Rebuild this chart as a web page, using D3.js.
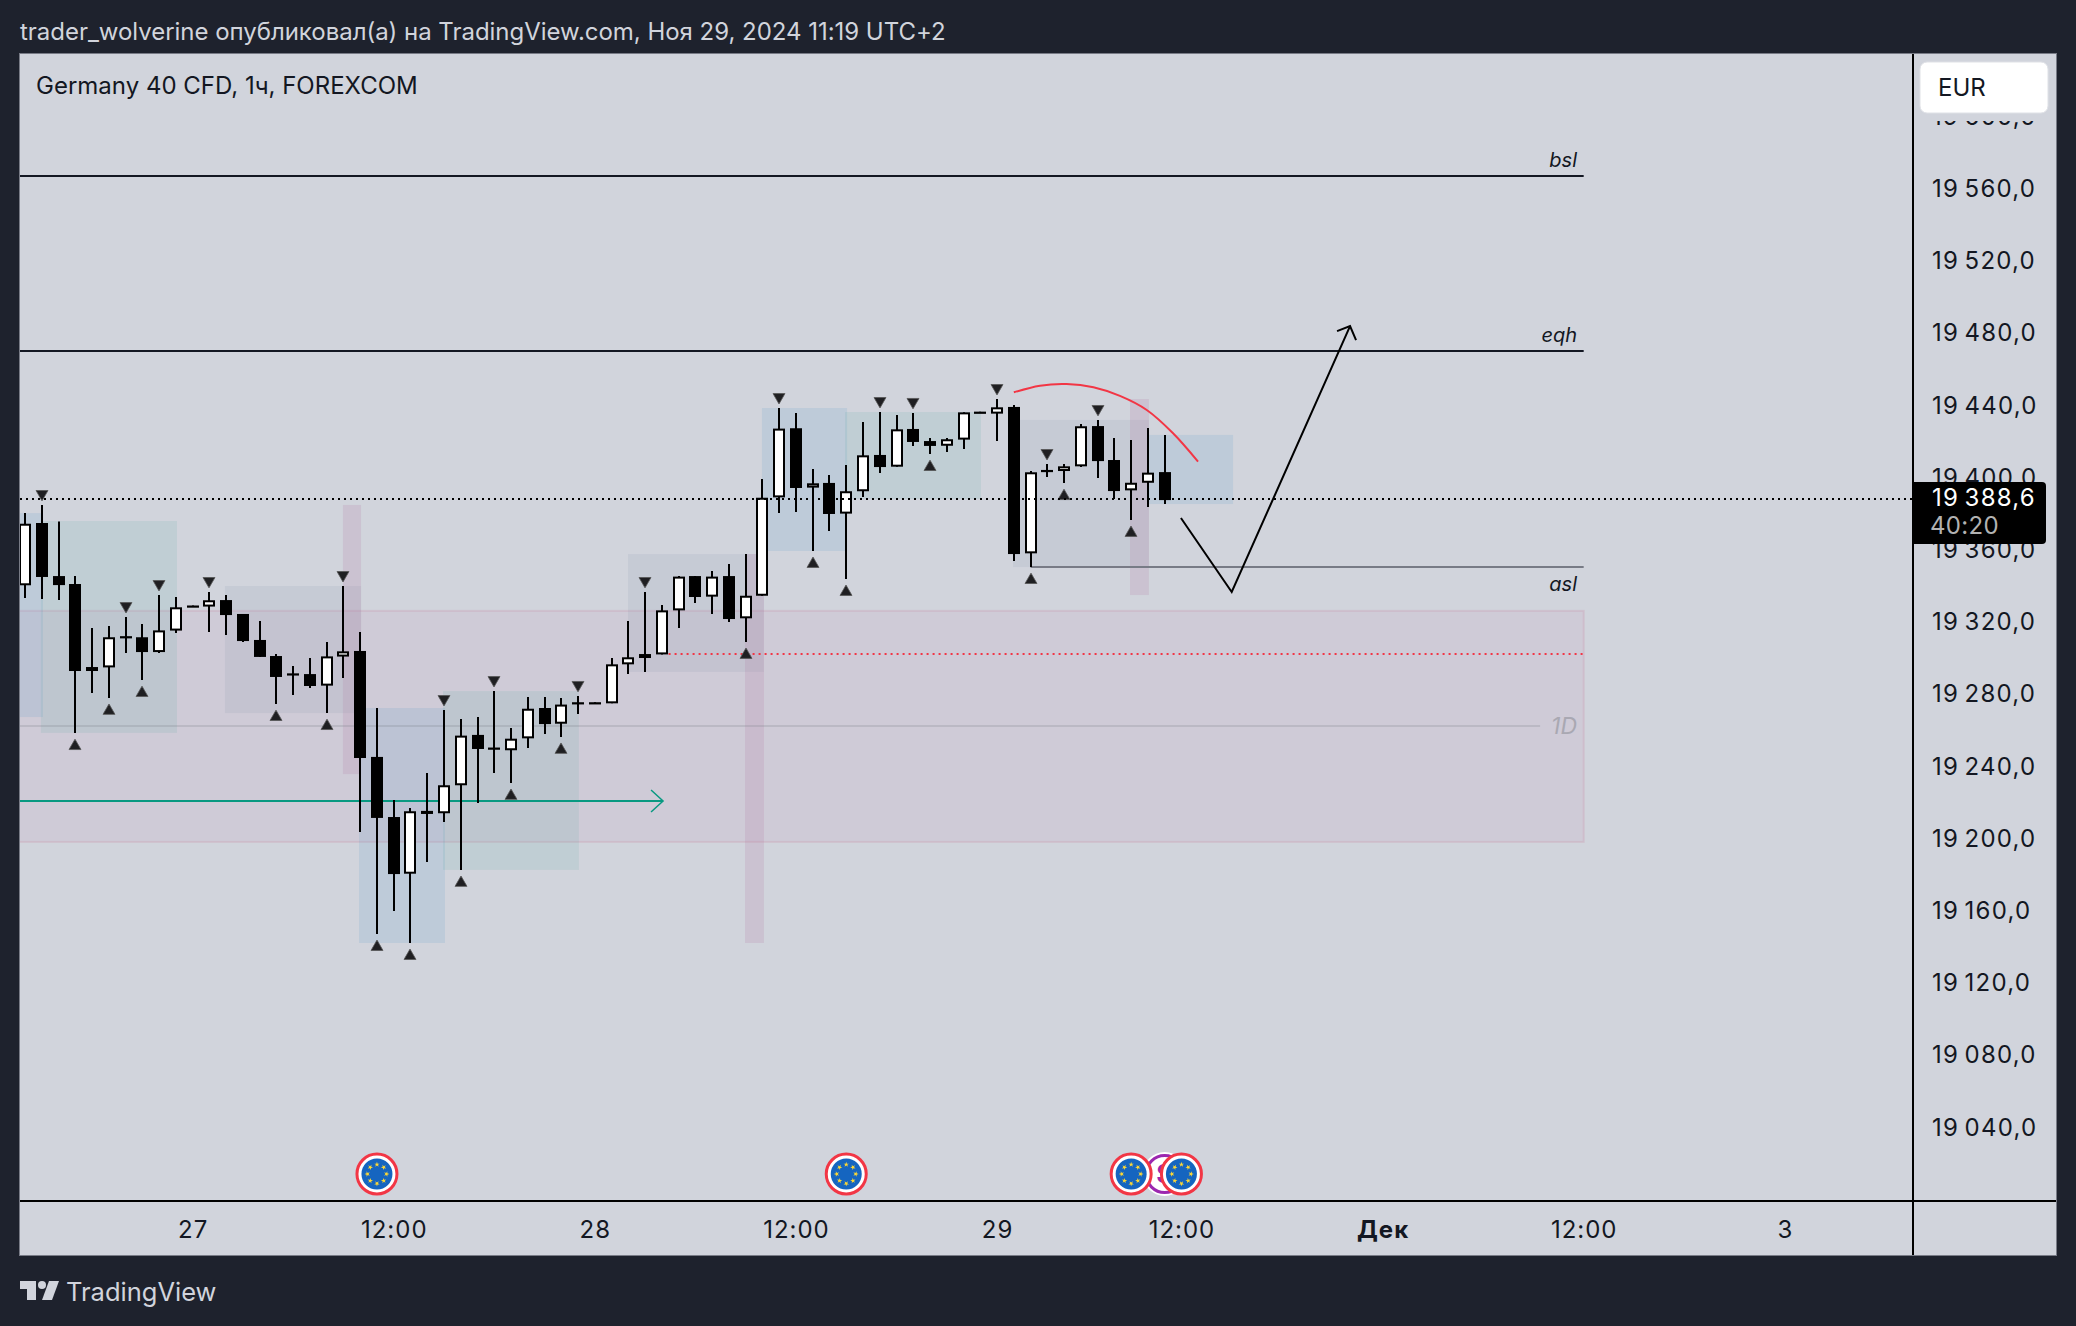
<!DOCTYPE html>
<html>
<head>
<meta charset="utf-8">
<title>Germany 40 CFD</title>
<script src="https://cdn.jsdelivr.net/npm/d3@7"></script>
<style>
  html, body { margin: 0; padding: 0; background: #1e222d; }
  svg { display: block; }
  text { font-family: Inter, "Noto Sans", sans-serif; }
</style>
</head>
<body>
<svg id="chart" width="2076" height="1326"></svg>
<script>
// candles, one entry per hour bar
const opens = [19340.8,19375.3,19345.9,19341.5,19295.5,19295.3,19312.6,19312.0,19303.8,19315.7,19329.6,19329.0,19332.6,19324.9,19310.5,19301.6,19292.0,19291.6,19285.2,19301.3,19304.4,19245.7,19212.4,19181.0,19215.8,19214.5,19230.0,19257.9,19250.9,19249.4,19256.0,19272.8,19264.1,19276.0,19276.0,19275.4,19297.0,19302.7,19302.5,19326.9,19345.9,19334.5,19345.9,19322.5,19335.0,19389.5,19427.8,19394.9,19397.5,19380.5,19392.9,19413.0,19406.5,19427.4,19420.7,19418.1,19421.5,19437.0,19435.9,19439.6,19358.5,19404.7,19404.1,19406.7,19429.0,19410.2,19393.4,19397.6,19403.5]
const highs = [19380.8,19385.3,19376.2,19345.9,19317.1,19318.2,19323.2,19319.4,19335.4,19334.3,19329.6,19337.1,19335.4,19324.9,19321.0,19302.7,19296.1,19300.5,19309.4,19340.4,19314.9,19272.8,19221.8,19217.4,19236.8,19271.7,19266.7,19267.8,19282.2,19261.7,19278.9,19278.9,19278.4,19279.5,19276.0,19300.5,19321.0,19337.1,19329.9,19345.9,19345.9,19348.7,19352.6,19358.1,19399.7,19439.0,19436.3,19405.2,19401.9,19407.4,19431.3,19436.8,19435.1,19436.3,19422.4,19422.4,19436.6,19437.0,19444.0,19440.7,19404.1,19408.0,19408.0,19430.1,19432.4,19422.4,19421.3,19427.9,19424.0]
const lows = [19333.8,19333.2,19332.6,19258.9,19281.1,19278.4,19303.3,19288.3,19303.3,19314.4,19329.0,19314.9,19313.3,19309.4,19301.1,19275.0,19280.0,19283.9,19270.0,19289.4,19204.1,19147.6,19160.4,19142.6,19187.5,19209.7,19183.1,19220.2,19236.8,19231.3,19250.6,19258.4,19256.8,19269.5,19275.6,19275.4,19291.6,19292.8,19302.5,19317.1,19331.0,19324.9,19320.5,19309.4,19335.0,19380.8,19381.4,19359.8,19370.9,19344.3,19389.7,19403.0,19406.5,19418.0,19413.5,19414.6,19416.3,19436.6,19420.7,19354.3,19350.9,19400.8,19397.4,19406.3,19400.2,19388.6,19377.0,19384.2,19385.8]
const closes = [19374.9,19345.4,19340.9,19293.3,19293.3,19312.0,19312.0,19303.8,19315.8,19328.6,19329.0,19332.5,19324.3,19309.9,19301.1,19290.0,19291.6,19285.0,19301.4,19304.2,19245.1,19211.9,19180.8,19215.6,19214.1,19230.0,19257.5,19250.1,19250.4,19255.8,19272.4,19263.9,19274.7,19275.6,19275.6,19297.0,19300.9,19300.5,19326.9,19345.6,19334.3,19345.6,19322.1,19335.0,19389.3,19427.6,19394.7,19397.3,19380.3,19392.9,19412.8,19406.3,19427.2,19420.2,19418.0,19421.7,19436.6,19436.6,19439.4,19358.1,19403.4,19404.3,19406.7,19428.9,19409.6,19393.0,19397.6,19403.2,19388.0]

// bars that carry a fractal marker
const fractalHighs = [1,6,8,11,19,25,28,33,37,45,51,53,58,61,64]
const fractalLows = [3,5,7,15,18,21,23,26,29,32,43,47,49,54,60,62,66]

// shaded zones drawn on the chart
const zoneKinds = ['blue','green','gray','mauve','blue','green','gray','mauve','blue','green','gray','mauve','blue']
const zoneStarts = [-2,0.95,11.93,18.97,19.93,24.94,35.98,42.96,43.97,48.93,58.95,65.93,67.06]
const zoneEnds = [1.07,9.07,20.05,20.05,25.06,33.05,44.09,44.09,49.05,57.04,67.06,67.06,72.08]
const zoneTops = [19380.8,19376.4,19340.4,19385.3,19272.8,19282.2,19358.1,19358.1,19439.0,19436.8,19432.4,19444.0,19424.1]
const zoneBottoms = [19267.8,19259.0,19270.0,19236.2,19142.6,19183.1,19292.8,19142.6,19359.8,19388.6,19350.9,19335.4,19385.8]

// daily range box and levels
const dayRange = [19326.6, 19198.6]
const dayMid = 19302.7
const dayOpen = 19262.8
const bslLevel = 19567.5
const eqhLevel = 19470.6
const aslLevel = 19350.9
const arrowLevel = 19221.3
const lastPrice = 19388.6

// hand drawn path and arc, [bar, price]
const forecast = [[68.97,19378.1],[72.0,19337.1],[79.06,19484.4]]
const arc = [[59.0,19447.7],[60.56,19451.4],[62.15,19452.3],[63.75,19450.5],[65.33,19445.7],[66.93,19437.9],[68.5,19425.0],[69.99,19409.3]]

const priceTicks = [19600,19560,19520,19480,19440,19400,19360,19320,19280,19240,19200,19160,19120,19080,19040]
const timeTickBars = [10,22,34,46,58,69,81,93,105]
const timeTickLabels = ['27','12:00','28','12:00','29','12:00','Дек','12:00','3']
const eventBars = [21,49,66,69]
const usEventBar = 68

const paneLeft = 20, paneRight = 2056, paneTop = 54, paneBottom = 1255
const axisX = 1913, axisY = 1201

const x = d3.scaleLinear().domain([0, 100]).range([25, 1701])
const y = d3.scaleLinear().domain([19388.6, 19040]).range([499, 1128.2])

const zoneColors = {
    blue: ['rgb(59,137,195)', 0.12],
    green: ['rgb(76,162,153)', 0.12],
    gray: ['rgb(126,137,162)', 0.12],
    mauve: ['rgb(179,127,165)', 0.2]
}

const formatPrice = v => {
    const s = v.toFixed(1).replace('.', ',')
    return s.slice(0, 2) + '\u2009' + s.slice(2)
}

const svg = d3.select('#chart')

svg.append('rect')
    .attr('x', paneLeft - 0.5).attr('y', paneTop - 0.5)
    .attr('width', paneRight - paneLeft + 1).attr('height', paneBottom - paneTop + 1)
    .attr('fill', '#d1d4dc').attr('stroke', '#787b86').attr('stroke-width', 1)

svg.append('defs').append('clipPath').attr('id', 'pane')
    .append('rect')
    .attr('x', paneLeft).attr('y', paneTop)
    .attr('width', axisX - paneLeft).attr('height', axisY - paneTop)

const plot = svg.append('g').attr('clip-path', 'url(#pane)')

// daily box first, everything sits on it
plot.append('rect')
    .attr('x', x(-2)).attr('width', x(93) - x(-2))
    .attr('y', y(dayRange[0])).attr('height', y(dayRange[1]) - y(dayRange[0]))
    .attr('fill', 'rgb(199,132,180)').attr('fill-opacity', 0.1)
    .attr('stroke', 'rgb(199,132,160)').attr('stroke-opacity', 0.22).attr('stroke-width', 2)

plot.selectAll('.zone')
    .data(zoneKinds)
    .enter().append('rect')
    .attr('class', 'zone')
    .attr('x', (d, i) => x(zoneStarts[i]))
    .attr('width', (d, i) => x(zoneEnds[i]) - x(zoneStarts[i]))
    .attr('y', (d, i) => y(zoneTops[i]))
    .attr('height', (d, i) => y(zoneBottoms[i]) - y(zoneTops[i]))
    .attr('fill', d => zoneColors[d][0])
    .attr('fill-opacity', d => zoneColors[d][1])

const hline = (price, from, to, color, width, dash) => {
    const l = plot.append('line')
        .attr('x1', x(from)).attr('x2', x(to))
        .attr('y1', y(price)).attr('y2', y(price))
        .attr('stroke', color).attr('stroke-width', width)
    if (dash) l.attr('stroke-dasharray', dash)
    return l
}

hline(bslLevel, -2, 93, '#131722', 2)
hline(eqhLevel, -2, 93, '#131722', 2)
hline(aslLevel, 60, 93, '#787b86', 2)
hline(dayOpen, -2, 90.4, '#787b86', 2).attr('stroke-opacity', 0.22)
hline(dayMid, 38.4, 93, '#f23645', 2, '2 4')
hline(arrowLevel, -2, 38.07, '#089981', 2)

// head of the green arrow
plot.append('path')
    .attr('d', d3.line()([[x(38.07) - 12, y(arrowLevel) - 11], [x(38.07), y(arrowLevel)], [x(38.07) - 12, y(arrowLevel) + 11]]))
    .attr('fill', 'none').attr('stroke', '#089981').attr('stroke-width', 1.5)

const labelRows = [['bsl', bslLevel, '#131722'], ['eqh', eqhLevel, '#131722'], ['asl', aslLevel, '#131722']]
plot.selectAll('.level-label')
    .data(labelRows)
    .enter().append('text')
    .attr('class', 'level-label')
    .attr('x', 1577)
    .attr('y', d => d[0] === 'asl' ? y(d[1]) + 24 : y(d[1]) - 9)
    .attr('text-anchor', 'end')
    .attr('font-family', '"Liberation Sans"')
    .attr('font-size', 20).attr('font-style', 'italic')
    .attr('fill', d => d[2])
    .text(d => d[0])

plot.append('text')
    .attr('x', 1577).attr('y', y(dayOpen)).attr('dy', '0.35em')
    .attr('text-anchor', 'end')
    .attr('font-family', '"Liberation Sans"')
    .attr('font-size', 23).attr('font-style', 'italic')
    .attr('fill', '#a9a8b2')
    .text('1D')

// candles
const candles = plot.append('g')
const bars = d3.range(opens.length)

candles.selectAll('.wick')
    .data(bars)
    .enter().append('line')
    .attr('class', 'wick')
    .attr('x1', i => Math.round(x(i))).attr('x2', i => Math.round(x(i)))
    .attr('y1', i => y(highs[i])).attr('y2', i => y(lows[i]))
    .attr('stroke', '#000').attr('stroke-width', 2)

candles.selectAll('.body')
    .data(bars)
    .enter().append('rect')
    .attr('class', 'body')
    .attr('x', i => Math.round(x(i)) - 5)
    .attr('width', 10)
    .attr('y', i => y(Math.max(opens[i], closes[i])) + 1)
    .attr('height', i => Math.max(0.2, y(Math.min(opens[i], closes[i])) - y(Math.max(opens[i], closes[i])) - 2))
    .attr('fill', i => closes[i] >= opens[i] ? '#fff' : '#000')
    .attr('stroke', '#000').attr('stroke-width', 2)

// fractal triangles
const triangle = d3.symbol().type(d3.symbolTriangle).size(62)

plot.selectAll('.fractal-low')
    .data(fractalLows)
    .enter().append('path')
    .attr('class', 'fractal-low')
    .attr('d', triangle)
    .attr('transform', i => `translate(${Math.round(x(i))},${y(lows[i]) + 13})`)
    .attr('fill', '#1f1f22').attr('stroke', '#555').attr('stroke-width', 0.8)

plot.selectAll('.fractal-high')
    .data(fractalHighs)
    .enter().append('path')
    .attr('class', 'fractal-high')
    .attr('d', triangle)
    .attr('transform', i => `translate(${Math.round(x(i))},${y(highs[i]) - 11}) rotate(180)`)
    .attr('fill', '#1f1f22').attr('stroke', '#555').attr('stroke-width', 0.8)

// drawings
plot.append('path')
    .attr('d', d3.line().x(d => x(d[0])).y(d => y(d[1])).curve(d3.curveCatmullRom)(arc))
    .attr('fill', 'none').attr('stroke', '#f23645').attr('stroke-width', 2)

plot.append('path')
    .attr('d', d3.line().x(d => x(d[0])).y(d => y(d[1]))(forecast))
    .attr('fill', 'none').attr('stroke', '#000').attr('stroke-width', 2)

const tip = forecast[2]
plot.append('path')
    .attr('d', d3.line()([[x(tip[0]) - 13, y(tip[1]) + 5], [x(tip[0]), y(tip[1])], [x(tip[0]) + 6, y(tip[1]) + 14]]))
    .attr('fill', 'none').attr('stroke', '#000').attr('stroke-width', 2)

// last price line
plot.append('line')
    .attr('x1', paneLeft).attr('x2', axisX)
    .attr('y1', y(lastPrice)).attr('y2', y(lastPrice))
    .attr('stroke', '#000').attr('stroke-width', 2).attr('stroke-dasharray', '2 4')

// economic events along the bottom
const eventY = 1174
const usEvent = plot.append('g').attr('transform', `translate(${x(usEventBar)},${eventY})`)
usEvent.append('circle').attr('r', 22).attr('fill', '#fff')
usEvent.append('circle').attr('r', 18.5).attr('fill', '#fff').attr('stroke', '#9c27b0').attr('stroke-width', 3)
usEvent.append('text').attr('text-anchor', 'middle').attr('dy', '0.35em')
    .attr('font-size', 26).attr('font-weight', 700).attr('fill', '#9c27b0').text('$')

const star = d3.symbol().type(d3.symbolStar).size(9)
const events = plot.selectAll('.event')
    .data(eventBars)
    .enter().append('g')
    .attr('class', 'event')
    .attr('transform', i => `translate(${x(i)},${eventY})`)
events.append('circle').attr('r', 20).attr('fill', '#fff').attr('stroke', '#f23645').attr('stroke-width', 3)
events.append('circle').attr('r', 15.5).attr('fill', '#1565c0')
events.selectAll('.star')
    .data(d3.range(8))
    .enter().append('path')
    .attr('class', 'star')
    .attr('d', star)
    .attr('transform', k => `rotate(${k * 45}) translate(0,-9.5)`)
    .attr('fill', '#fdd835')

// axes
const priceAxis = svg.append('g')
    .attr('transform', `translate(${axisX},0)`)
    .call(d3.axisRight(y).tickValues(priceTicks).tickFormat(formatPrice).tickSize(0).tickPadding(19))
priceAxis.select('.domain').remove()
priceAxis.selectAll('text')
    .attr('dy', '0.29em')
    .attr('font-size', 24).attr('font-family', 'Inter').attr('fill', '#131722')
    .attr('letter-spacing', 1.2)

const timeAxis = svg.append('g')
    .attr('transform', `translate(0,${axisY})`)
    .call(d3.axisBottom(x).tickValues(timeTickBars).tickFormat((d, i) => timeTickLabels[i]).tickSize(0).tickPadding(20))
timeAxis.select('.domain').remove()
timeAxis.selectAll('text')
    .attr('font-size', 24).attr('font-family', 'Inter').attr('fill', '#131722')
    .attr('letter-spacing', 1)
    .attr('font-weight', d => d === 81 ? 700 : 400)

svg.append('line').attr('x1', axisX).attr('x2', axisX).attr('y1', paneTop).attr('y2', paneBottom)
    .attr('stroke', '#000').attr('stroke-width', 2)
svg.append('line').attr('x1', paneLeft).attr('x2', paneRight).attr('y1', axisY).attr('y2', axisY)
    .attr('stroke', '#000').attr('stroke-width', 2)

// currency button, the scale is masked behind it
svg.append('rect')
    .attr('x', axisX + 1).attr('y', paneTop).attr('width', paneRight - axisX - 1).attr('height', 67)
    .attr('fill', '#d1d4dc')
svg.append('rect')
    .attr('x', 1920).attr('y', 62).attr('width', 128).attr('height', 51).attr('rx', 7)
    .attr('fill', '#fff').attr('stroke', '#dfe1e6').attr('stroke-width', 1)
svg.append('text')
    .attr('x', 1938).attr('y', 88).attr('dy', '0.35em')
    .attr('font-size', 24).attr('fill', '#131722')
    .text('EUR')

// last price tag
svg.append('path')
    .attr('d', 'M1913 482 H2042 Q2046 482 2046 486 V540 Q2046 544 2042 544 H1913 Z')
    .attr('fill', '#000')
svg.append('text')
    .attr('x', 1932).attr('y', 498).attr('dy', '0.35em')
    .attr('font-size', 24).attr('fill', '#fff')
    .attr('letter-spacing', 1.2)
    .text(formatPrice(lastPrice))
svg.append('text')
    .attr('x', 1930).attr('y', 526).attr('dy', '0.35em')
    .attr('font-size', 24).attr('fill', '#b2b2b2')
    .attr('letter-spacing', 0.3)
    .text('40:20')

// header, legend, footer
svg.append('text')
    .attr('x', 20).attr('y', 32).attr('dy', '0.35em')
    .attr('font-size', 24).attr('fill', '#d1d4dc')
    .attr('letter-spacing', -0.03)
    .text('trader_wolverine опубликовал(а) на TradingView.com, Ноя 29, 2024 11:19 UTC+2')

svg.append('text')
    .attr('x', 36).attr('y', 86).attr('dy', '0.35em')
    .attr('font-size', 24).attr('fill', '#131722')
    .text('Germany 40 CFD, 1ч, FOREXCOM')

const logo = svg.append('g').attr('fill', '#d1d4dc')
logo.append('path').attr('d', 'M20 1281 H36 V1300 H27 V1289 H20 Z')
logo.append('circle').attr('cx', 42).attr('cy', 1285).attr('r', 4)
logo.append('path').attr('d', 'M49 1281 H59 L52 1300 H42 Z')
svg.append('text')
    .attr('x', 66).attr('y', 1292).attr('dy', '0.35em')
    .attr('font-size', 25.5).attr('fill', '#d1d4dc')
    .text('TradingView')
</script>
</body>
</html>
